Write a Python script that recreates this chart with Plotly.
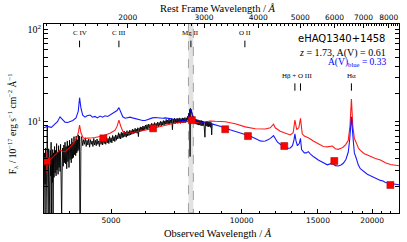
import math
import plotly.graph_objects as go

# ---------------- data ----------------
redshift = 1.73

black_wl = [3503, 3512, 3522, 3530, 3537, 3546, 3555, 3563, 3571, 3580, 3589, 3597, 3604, 3612, 3620,
            3628, 3636, 3643, 3651, 3659, 3667, 3674, 3683, 3693, 3703, 3713, 3723, 3733, 3743, 3753,
            3763, 3773, 3783, 3793, 3803, 3813, 3823, 3833, 3845, 3855, 3866, 3878, 3890,
            3902, 3914, 3926, 3938, 3950, 3962, 3974, 3986, 3998, 4010, 4022, 4034, 4046, 4058, 4070,
            4082, 4094, 4106, 4118, 4130, 4142, 4154, 4166, 4178, 4190, 4202, 4214, 4226, 4236, 4248,
            4258, 4268,
            4280, 4300, 4320, 4340, 4360, 4380, 4400, 4420, 4440, 4460, 4480, 4500, 4520, 4540, 4560,
            4580, 4600, 4620, 4640, 4660, 4680, 4700, 4720, 4740, 4760, 4780, 4800, 4820, 4840, 4860,
            4880, 4900, 4920, 4940, 4960, 4980, 5000, 5020, 5040, 5060, 5080, 5100, 5120, 5140, 5160,
            5180, 5200, 5220, 5240, 5260, 5280, 5300, 5320, 5340, 5360, 5380, 5400, 5420, 5440, 5460,
            5480, 5500, 5520, 5540, 5560, 5580, 5600, 5620, 5640, 5660, 5680, 5700, 5720, 5740, 5760,
            5780, 5800, 5820, 5840, 5860, 5880, 5900, 5920, 5940, 5960, 5980,
            6000, 6025, 6050, 6075, 6100, 6125, 6150, 6175, 6200, 6225, 6250, 6275, 6300, 6325, 6350,
            6375, 6400, 6425, 6450, 6475, 6500, 6525, 6550, 6575, 6600, 6625, 6650, 6675, 6700, 6725,
            6750, 6775, 6800, 6825, 6850, 6875, 6900, 6925, 6950, 6975, 7000, 7025, 7050, 7075, 7100,
            7125, 7150, 7175, 7200, 7225, 7250, 7275, 7300, 7325, 7350, 7375, 7400, 7425, 7450, 7475,
            7500, 7525, 7550, 7570, 7590, 7605, 7620, 7635, 7650, 7670, 7690, 7710, 7730, 7755, 7780,
            7805, 7830, 7855, 7880, 7905, 7930, 7955, 7980, 8005, 8030, 8055, 8080, 8105, 8130, 8155,
            8180, 8205, 8230, 8255, 8280, 8305, 8330, 8355, 8380, 8405, 8430, 8455, 8480, 8505, 8530,
            8555]
black_f = [0.9, 4.6, 2.1, 5.2, 0.9, 3.8, 2.0, 8.8, 2.4, 0.9, 5.1, 2.3, 4.4, 0.9, 4.9,
           2.6, 6.0, 0.9, 4.3, 2.2, 5.0, 0.9, 4.6, 2.5, 5.4, 2.8, 4.9, 2.6, 5.8, 3.0,
           4.7, 2.7, 5.5, 3.2, 4.9, 2.9, 5.7, 3.4, 0.9, 2.8, 5.2, 3.3, 5.6,
           3.6, 6.0, 3.5, 5.4, 3.1, 6.2, 3.7, 5.5, 3.2, 6.3, 3.9, 5.7, 3.6, 6.6, 4.0,
           6.0, 4.1, 6.9, 4.4, 6.2, 4.3, 7.0, 4.6, 6.4, 4.8, 7.2, 5.0, 7.0, 0.9, 0.9,
           4.8, 6.9,
           6.6, 5.5, 6.4, 5.7, 6.7, 5.4, 6.3, 5.6, 6.5, 5.3, 6.4, 5.7, 6.2, 5.4, 6.6,
           5.6, 6.3, 5.5, 6.5, 5.7, 6.2, 5.4, 6.6, 5.7, 6.4, 5.6, 6.7, 5.8, 6.5, 5.7,
           6.8, 5.9, 6.6, 5.8, 6.9, 6.0, 6.7, 5.9, 7.1, 6.2, 6.9, 6.1, 7.2, 6.3, 7.1,
           6.5, 7.6, 6.6, 7.4, 6.5, 7.7, 6.7, 7.6, 6.8, 7.9, 6.9, 7.7, 6.8, 8.0, 7.0,
           7.8, 7.1, 8.1, 7.2, 8.0, 7.3, 8.3, 7.4, 8.2, 7.5, 8.5, 7.6, 8.3, 7.5, 8.6,
           6.9, 8.5, 7.8, 8.8, 7.9, 8.7, 8.0, 9.0, 8.1, 8.9, 8.2,
           9.2, 8.3, 9.3, 8.2, 9.4, 8.5, 9.3, 8.4, 9.6, 8.6, 9.5, 8.7, 9.8, 8.7, 9.6,
           8.9, 9.9, 8.8, 9.8, 9.1, 10.1, 9.0, 10.0, 9.2, 10.3, 9.2, 10.2, 9.4, 10.6, 9.4,
           10.4, 9.5, 10.7, 9.5, 10.5, 9.6, 10.8, 8.2, 10.7, 9.6, 10.9, 9.5, 10.7, 9.7, 10.9,
           9.6, 10.8, 9.7, 11.0, 9.6, 10.8, 9.8, 11.0, 9.7, 10.9, 9.8, 11.1, 9.8, 11.0, 9.9,
           11.4, 10.6, 12.3, 11.2, 13.6, 4.2, 14.0, 12.4, 13.5, 12.2, 12.8, 10.9, 11.4, 9.8, 10.9,
           9.6, 10.7, 9.4, 10.6, 9.3, 10.5, 9.2, 10.4, 9.2, 10.3, 9.1, 10.3, 9.0, 10.2, 9.1,
           10.1, 8.9, 6.8, 10.0, 9.0, 10.1, 8.9, 10.0, 8.8, 9.9, 8.9, 10.0, 8.7, 9.8, 7.2,
           9.5]

blue_wl = [3501, 3560, 3640, 3700, 3760, 3812, 3860, 3914, 3970, 4019, 4080, 4150, 4200, 4229, 4260,
           4300, 4353, 4400, 4471, 4530, 4592, 4650, 4716, 4780, 4842, 4910, 4972, 5040, 5106, 5160,
           5212, 5260, 5320, 5385, 5450, 5530, 5600, 5679, 5760, 5833, 5910, 5990, 6070, 6152, 6230,
           6317, 6400, 6488, 6580, 6662, 6750, 6842, 6930, 7026, 7120, 7216, 7310, 7410, 7500, 7570,
           7639, 7700, 7780, 7860, 7941, 8025, 8241, 8463, 8692, 8900, 9166, 9400, 9667, 9900, 10195,
           10450, 10752, 11041, 11200, 11338, 11500, 11650, 11848, 11950, 12100, 12278, 12541, 12750, 12950, 13100,
           13200, 13271, 13350, 13450, 13580, 13669, 13750, 13950, 14100, 14250, 14400, 14634, 15027, 15431, 15764,
           16000, 16189, 16450, 16707, 16950, 17158, 17400, 17620, 17760, 17917, 18080, 18200, 18391, 18588, 18786,
           19000, 19187, 19497, 19820, 20347, 20897, 21200, 21459, 22036, 22628, 23068]
blue_f = [8.6, 8.9, 8.7, 9.3, 10.0, 11.3, 10.6, 9.9, 9.8, 10.0, 10.3, 11.0, 13.0, 18.2, 14.0,
          11.8, 11.2, 11.6, 11.8, 11.2, 11.4, 11.0, 11.5, 11.2, 11.6, 11.4, 11.8, 12.2, 12.6, 13.2,
          14.2, 12.8, 11.3, 10.9, 11.0, 11.2, 11.0, 10.8, 10.5, 10.4, 10.3, 10.3, 10.6, 10.8, 11.0,
          11.1, 11.0, 11.0, 10.9, 11.0, 10.8, 10.8, 10.7, 10.7, 10.6, 10.4, 10.3, 10.2, 10.6, 12.0,
          13.7, 12.0, 10.6, 10.2, 10.1, 9.9, 9.7, 9.6, 9.3, 9.0, 8.6, 8.2, 7.9, 7.6, 7.3,
          7.0, 6.6, 6.2, 6.15, 6.2, 6.4, 6.6, 7.06, 6.6, 6.0, 5.7, 5.4, 5.15, 5.2, 5.5,
          6.3, 7.4, 6.2, 5.5, 5.8, 6.6, 5.0, 4.6, 4.6, 4.75, 4.5, 4.2, 3.85, 3.57, 3.42,
          3.5, 3.55, 3.35, 3.32, 3.4, 3.55, 3.9, 4.7, 6.5, 11.3, 6.5, 4.6, 4.0, 3.4, 3.1,
          2.95, 2.86, 2.7, 2.6, 2.44, 2.32, 2.28, 2.2, 2.15, 2.1, 2.08]

red_wl = [3501, 3557, 3614, 3680, 3750, 3812, 3860, 3914, 3970, 4019, 4080, 4128, 4172, 4205, 4229,
          4260, 4307, 4353, 4420, 4471, 4530, 4592, 4650, 4716, 4780, 4842, 4910, 4972, 5040, 5106,
          5160, 5212, 5260, 5320, 5385, 5450, 5530, 5600, 5679, 5760, 5833, 5990, 6152, 6317, 6488,
          6662, 6842, 7026, 7216, 7410, 7529, 7580, 7639, 7700, 7815, 8025, 8241, 8463, 8700, 9166,
          9667, 10195, 10752, 11041, 11338, 11643, 11848, 11956, 12278, 12541, 12950, 13150, 13271, 13400, 13550,
          13669, 13800, 13950, 14250, 14634, 15027, 15431, 15764, 16000, 16189, 16450, 16707, 16950, 17158, 17400,
          17620, 17780, 17917, 18050, 18200, 18391, 18588, 18786, 19187, 19497, 19820, 20347, 20897, 21459, 22036,
          22628, 23068]
red_f = [3.4, 3.7, 3.85, 4.2, 4.6, 4.95, 4.8, 4.75, 5.0, 5.3, 5.7, 6.2, 6.8, 7.8, 9.2,
         7.6, 6.7, 6.6, 6.6, 6.6, 6.7, 6.75, 6.8, 6.9, 7.0, 7.2, 7.3, 7.5, 7.8, 8.1,
         8.9, 10.4, 9.0, 7.9, 7.5, 7.5, 7.55, 7.65, 7.73, 7.8, 7.85, 8.1, 8.35, 8.6, 9.0,
         9.3, 9.55, 9.7, 9.85, 9.95, 10.1, 10.8, 11.3, 10.6, 9.9, 9.7, 9.9, 10.2, 10.1, 10.0,
         9.5, 8.8, 8.4, 8.3, 8.35, 8.6, 9.4, 8.6, 7.9, 7.6, 7.2, 7.6, 10.4, 8.2, 8.6,
         10.9, 7.4, 7.0, 6.7, 6.2, 5.75, 5.4, 5.35, 5.4, 5.46, 5.1, 5.03, 5.15, 5.33, 5.7,
         6.3, 9.0, 17.6, 9.0, 6.6, 5.9, 5.2, 4.9, 4.5, 4.36, 4.2, 4.0, 3.85, 3.6, 3.45,
         3.38, 3.34]

phot_wl = [3557, 4798, 6250, 7679, 9166, 10342, 12541, 16361, 22036]
phot_f = [3.76, 6.61, 8.48, 10.4, 8.29, 7.0, 5.46, 3.76, 2.07]
phot_err_up = [0.97, 0, 0, 0, 0, 0, 0, 0, 0]
phot_err_dn = [1.0, 0, 0, 0, 0, 0, 0, 0, 0]

line_names_top = ["C IV", "C III", "Mg II", "O II"]
line_rest_top = [1549, 1909, 2798, 3727]
line_names_low = ["Hβ + O III", "Hα"]
line_rest_low = [4934, 6563]
line_ticks_low = [4861, 5007, 6563]
mgii_band_rest = [2762, 2835]

obs_ticks = [5000, 10000, 15000, 20000]
obs_minor = [4000, 6000, 7000, 8000, 9000, 11000, 12000, 13000, 14000, 16000, 17000, 18000, 19000, 21000, 22000]
rest_ticks = [2000, 3000, 4000, 5000, 6000, 7000, 8000]
y_ticks = [10, 100]
y_ticktext = ["10<sup>1</sup>", "10<sup>2</sup>"]
y_minor = [2, 3, 4, 5, 6, 7, 8, 9, 20, 30, 40, 50, 60, 70, 80, 90]

wl_range = [3501, 23068]
f_range = [1.03, 114]

# ---------------- figure ----------------
SERIF = "Liberation Serif"
SANS = "DejaVu Sans"

fig = go.Figure()
fig.add_trace(go.Scatter(x=black_wl, y=black_f, mode="lines",
                         line=dict(color="black", width=0.9), showlegend=False))
fig.add_trace(go.Scatter(x=red_wl, y=red_f, mode="lines",
                         line=dict(color="rgba(255,0,0,0.9)", width=1.1), showlegend=False))
fig.add_trace(go.Scatter(x=blue_wl, y=blue_f, mode="lines",
                         line=dict(color="rgba(0,0,255,0.9)", width=1.1), showlegend=False))
fig.add_trace(go.Scatter(x=phot_wl, y=phot_f, mode="markers",
                         marker=dict(symbol="square", size=7, color="red",
                                     line=dict(color="#990000", width=0.5)),
                         error_y=dict(type="data", array=phot_err_up, arrayminus=phot_err_dn,
                                      color="red", thickness=1, width=0),
                         showlegend=False))
# dummy trace for the rest-frame axis
fig.add_trace(go.Scatter(x=[], y=[], xaxis="x2", yaxis="y", showlegend=False))

lo, hi = math.log10(wl_range[0]), math.log10(wl_range[1])
shift = math.log10(1 + redshift)

fig.update_layout(
    width=407, height=242,
    margin=dict(l=44, r=8, t=24, b=29, autoexpand=False),
    paper_bgcolor="white", plot_bgcolor="white",
    xaxis=dict(type="log", range=[lo, hi], tickmode="array", tickvals=obs_ticks,
               ticktext=[str(v) for v in obs_ticks], ticks="inside", ticklen=4, tickcolor="black",
               showline=True, linecolor="black", linewidth=1, mirror=False, showgrid=False,
               zeroline=False, automargin=False, tickfont=dict(family=SANS, size=7.5, color="black"),
               minor=dict(tickmode="array", tickvals=obs_minor, ticks="inside", ticklen=2,
                          tickcolor="black", showgrid=False)),
    xaxis2=dict(type="log", range=[lo - shift, hi - shift], overlaying="x", side="top",
                anchor="y", tickmode="array", tickvals=rest_ticks,
                ticktext=[str(v) for v in rest_ticks], ticks="inside", ticklen=4,
                tickcolor="black", showline=True, linecolor="black", linewidth=1,
                showgrid=False, zeroline=False, automargin=False,
                tickfont=dict(family=SANS, size=7.5, color="black"),
                minor=dict(tickmode="array", tickvals=[v for v in range(1300, 8500, 100) if v not in rest_ticks],
                           ticks="inside", ticklen=2, tickcolor="black", showgrid=False)),
    yaxis=dict(type="log", range=[math.log10(f_range[0]), math.log10(f_range[1])],
               tickmode="array", tickvals=y_ticks, ticktext=y_ticktext, ticks="inside",
               ticklen=4, tickcolor="black", showline=True, linecolor="black", linewidth=1,
               mirror="allticks", showgrid=False, zeroline=False, automargin=False,
               tickfont=dict(family=SERIF, size=10, color="black"),
               minor=dict(tickmode="array", tickvals=y_minor, ticks="inside", ticklen=2,
                          tickcolor="black", showgrid=False)),
)

# MgII shaded band
fig.add_shape(type="rect", xref="x", yref="paper",
              x0=mgii_band_rest[0] * (1 + redshift), x1=mgii_band_rest[1] * (1 + redshift),
              y0=0, y1=1, fillcolor="rgba(190,190,190,0.45)",
              line=dict(color="rgba(140,140,140,0.8)", width=1, dash="dash"), layer="below")

# line markers
for name, rest in zip(line_names_top, line_rest_top):
    fig.add_annotation(x=math.log10(rest * (1 + redshift)), y=0.952, xref="x", yref="paper",
                       text=name, showarrow=False, xanchor="center", yanchor="middle",
                       font=dict(family=SERIF, size=7, color="black"))
    fig.add_shape(type="line", xref="x", yref="paper", x0=rest * (1 + redshift),
                  x1=rest * (1 + redshift), y0=0.877, y1=0.912, line=dict(color="black", width=1))
for name, rest in zip(line_names_low, line_rest_low):
    fig.add_annotation(x=math.log10(rest * (1 + redshift)), y=0.725, xref="x", yref="paper",
                       text=name, showarrow=False, xanchor="center", yanchor="middle",
                       font=dict(family=SERIF, size=7, color="black"))
for rest in line_ticks_low:
    fig.add_shape(type="line", xref="x", yref="paper", x0=rest * (1 + redshift),
                  x1=rest * (1 + redshift), y0=0.647, y1=0.686, line=dict(color="black", width=1))

# labels
fig.add_annotation(x=0.968, y=0.921, xref="paper", yref="paper", text="eHAQ1340+1458",
                   showarrow=False, xanchor="right", yanchor="middle",
                   font=dict(family=SANS, size=10, color="black"))
fig.add_annotation(x=0.968, y=0.847, xref="paper", yref="paper",
                   text="<i>z</i> = 1.73, A(V) = 0.61",
                   showarrow=False, xanchor="right", yanchor="middle",
                   font=dict(family=SERIF, size=10, color="black"))
fig.add_annotation(x=0.968, y=0.794, xref="paper", yref="paper",
                   text="A(V)<sub>blue</sub> = 0.33",
                   showarrow=False, xanchor="right", yanchor="middle",
                   font=dict(family=SERIF, size=9.5, color="blue"))

# axis titles
fig.add_annotation(x=0.49, y=-0.107, xref="paper", yref="paper",
                   text="Observed Wavelength / <i>Å</i>", showarrow=False,
                   xanchor="center", yanchor="middle", font=dict(family=SERIF, size=10.5, color="black"))
fig.add_annotation(x=0.49, y=1.083, xref="paper", yref="paper",
                   text="Rest Frame Wavelength / <i>Å</i>", showarrow=False,
                   xanchor="center", yanchor="middle", font=dict(family=SERIF, size=10.5, color="black"))
fig.add_annotation(x=-0.09, y=0.47, xref="paper", yref="paper", textangle=-90,
                   text="F<sub>λ</sub> / 10<sup>−17</sup> erg s<sup>−1</sup> cm<sup>−2</sup> Å<sup>−1</sup>",
                   showarrow=False, xanchor="center", yanchor="middle",
                   font=dict(family=SERIF, size=9.5, color="black"))

fig.write_html("out.html", config={"displayModeBar": False})

# remove the browser's default page margin so the 407x242 figure fills the window
with open("out.html", encoding="utf-8") as fh:
    page = fh.read()
page = page.replace("<head>", "<head><style>html,body{margin:0;padding:0;overflow:hidden;}</style>", 1)
with open("out.html", "w", encoding="utf-8") as fh:
    fh.write(page)
